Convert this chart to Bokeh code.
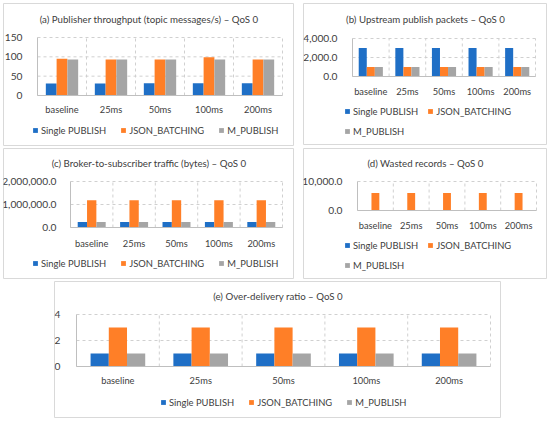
from bokeh.plotting import figure
from bokeh.models import (FixedTicker, NumeralTickFormatter, Legend, LegendItem, Label, Spacer,
                          Range1d, ColumnDataSource)
from bokeh.layouts import row, column
from bokeh.transform import dodge
from bokeh.embed import file_html
from bokeh.resources import INLINE

categories = ["baseline", "25ms", "50ms", "100ms", "200ms"]
series = ["Single PUBLISH", "JSON_BATCHING", "M_PUBLISH"]
colors = ["#1f6fc6", "#ff7f27", "#a5a5a5"]

throughput_single = [31, 31, 32, 32, 32]
throughput_json = [95, 93, 93, 99, 93]
throughput_m = [93, 93, 93, 93, 93]
throughput_ticks = [0, 50, 100, 150]

packets_single = [3000, 3000, 3000, 3000, 3000]
packets_json = [1000, 1000, 1000, 1000, 1000]
packets_m = [1000, 1000, 1000, 1000, 1000]
packets_ticks = [0, 2000, 4000]

traffic_single = [240000, 240000, 240000, 240000, 240000]
traffic_json = [1190000, 1190000, 1190000, 1190000, 1190000]
traffic_m = [240000, 240000, 240000, 240000, 240000]
traffic_ticks = [0, 1000000, 2000000]

wasted_single = [0, 0, 0, 0, 0]
wasted_json = [6000, 6000, 6000, 6000, 6000]
wasted_m = [0, 0, 0, 0, 0]
wasted_ticks = [0, 10000]

ratio_single = [1, 1, 1, 1, 1]
ratio_json = [3, 3, 3, 3, 3]
ratio_m = [1, 1, 1, 1, 1]
ratio_ticks = [0, 2, 4]

FONT = "Lato"
TXT = "#404040"
GRID = "#d0d0d0"
AXIS = "#bfbfbf"


def make_panel(title, s_vals, j_vals, m_vals, yticks, fmt, W, H, L, R, T, B,
               title_cy, x_standoff, y_standoff, leg_x, leg_bottom, ncols, spacing):
    n = len(categories)
    ymax = yticks[-1]
    ux = n / (R - L)
    uy = ymax / (B - T)
    p = figure(x_range=Range1d(-L * ux, n + (W - R) * ux),
               y_range=Range1d(-(H - B) * uy, ymax + T * uy),
               width=W, height=H, output_backend="svg", toolbar_location=None, min_border=0)
    p.frame_align = False
    p.outline_line_color = "#d9d9d9"
    p.xgrid.visible = False
    p.ygrid.visible = False

    # dashed grid: value lines and category boundaries
    p.segment(x0=[0] * len(yticks), x1=[n] * len(yticks), y0=yticks, y1=yticks,
              line_color=GRID, line_dash="3 3", line_width=1)
    bounds = list(range(1, n + 1))
    p.segment(x0=bounds, x1=bounds, y0=[0] * n, y1=[ymax] * n,
              line_color=GRID, line_dash="3 3", line_width=1)

    src = ColumnDataSource(dict(xc=[i + 0.5 for i in range(n)], s=s_vals, j=j_vals, m=m_vals))
    bw = 0.22
    rs = []
    for key, off, c in zip(["s", "j", "m"], [-bw, 0, bw], colors):
        r = p.vbar(x=dodge("xc", off), top=key, width=bw, source=src,
                   fill_color=c, line_color=None)
        rs.append(r)

    xa = p.xaxis[0]
    ya = p.yaxis[0]
    xa.fixed_location = 0
    ya.fixed_location = 0
    xa.bounds = (0, n)
    ya.bounds = (0, ymax)
    xa.ticker = FixedTicker(ticks=[i + 0.5 for i in range(n)])
    xa.major_label_overrides = {i + 0.5: c for i, c in enumerate(categories)}
    ya.ticker = FixedTicker(ticks=yticks)
    if fmt:
        ya.formatter = NumeralTickFormatter(format=fmt)
    for ax in (xa, ya):
        ax.axis_line_color = AXIS
        ax.major_tick_line_color = None
        ax.minor_tick_line_color = None
        ax.major_label_text_font = FONT
        ax.major_label_text_color = TXT
    xa.major_label_text_font_size = "9.3px"
    ya.major_label_text_font_size = "10.2px"
    xa.major_label_standoff = x_standoff
    ya.major_label_standoff = y_standoff

    items = [LegendItem(label=nm, renderers=[r]) for nm, r in zip(series, rs)]
    leg = Legend(items=items, orientation="horizontal", location=(leg_x, H - leg_bottom),
                 border_line_color=None, background_fill_alpha=0,
                 glyph_width=6, glyph_height=6, label_standoff=3, spacing=spacing,
                 padding=0, margin=0, label_height=10,
                 label_text_font=FONT, label_text_font_size="9.4px", label_text_color=TXT)
    if ncols:
        leg.ncols = ncols
    p.add_layout(leg)

    p.add_layout(Label(x=W / 2, y=H - title_cy, x_units="screen", y_units="screen",
                       text=title, text_align="center", text_baseline="middle",
                       text_font=FONT, text_font_size="9.7px", text_color=TXT))
    return p


pa = make_panel("(a) Publisher throughput (topic messages/s) \u2013 QoS 0",
                throughput_single, throughput_json, throughput_m, throughput_ticks, None,
                291, 143, 34, 279, 34, 92, 15, 2, 9, 29, 132.7, None, 14)
pb = make_panel("(b) Upstream publish packets \u2013 QoS 0",
                packets_single, packets_json, packets_m, packets_ticks, "0,0.0",
                244, 142, 49, 232, 35, 73, 15, 3, 9, 41, 133.5, 2, 9)
pc = make_panel("(c) Broker-to-subscriber traffic (bytes) \u2013 QoS 0",
                traffic_single, traffic_json, traffic_m, traffic_ticks, "0,0.0",
                291, 131, 67, 279, 33, 79, 14, 4, 8, 29, 120.5, None, 14)
pd = make_panel("(d) Wasted records \u2013 QoS 0",
                wasted_single, wasted_json, wasted_m, wasted_ticks, "0,0.0",
                244, 131, 54, 233, 33, 62, 14, 3, 9, 41, 122.5, 2, 9)
pe = make_panel("(e) Over-delivery ratio \u2013 QoS 0",
                ratio_single, ratio_json, ratio_m, ratio_ticks, None,
                447, 137, 22, 436, 33, 85, 14, 2, 10, 106, 126.5, None, 14)

layout = column(
    Spacer(height=3),
    row(Spacer(width=3), pa, Spacer(width=9), pb),
    Spacer(height=2),
    row(Spacer(width=3), pc, Spacer(width=9), pd),
    Spacer(height=2),
    row(Spacer(width=54), pe),
)

open("out.html", "w").write(file_html(layout, INLINE))
